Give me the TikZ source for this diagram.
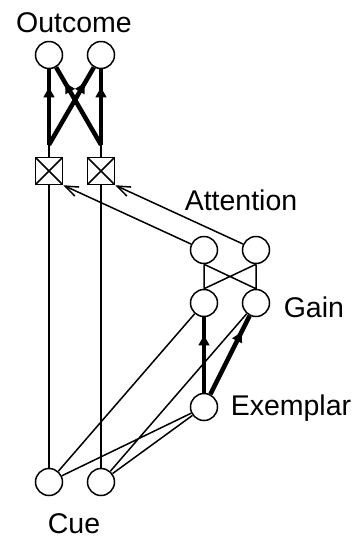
\documentclass[tikz,border=0pt]{standalone}
\usepackage{fontspec}
\setmainfont{Liberation Sans}
\usetikzlibrary{arrows.meta, calc, decorations.markings}

\begin{document}
\begin{tikzpicture}[x=1pt, y=-1pt, line width=1.5pt,
    unit/.style={circle, draw, minimum size=27pt, inner sep=0pt},
    gate/.style={rectangle, draw, minimum size=27pt, inner sep=0pt,
      path picture={\draw (path picture bounding box.north west) -- (path picture bounding box.south east)
        (path picture bounding box.south west) -- (path picture bounding box.north east);}},
    lbl/.style={font=\fontsize{28.5}{34}\selectfont, inner sep=0pt},
    strong/.style={line width=4.5pt, postaction={decorate},
      decoration={markings, mark=at position -16pt with {\arrow{Latex[length=12pt,width=12pt]}}}},
    attn/.style={-{Straight Barb[length=13pt,width=10pt]}}]
  \useasboundingbox (0,0) rectangle (354,539);
  % units
  \node[unit] (o1) at (49,55) {};
  \node[unit] (o2) at (101,55) {};
  \node[gate] (b1) at (49,171) {};
  \node[gate] (b2) at (101,171) {};
  \node[unit] (a1) at (204,250) {};
  \node[unit] (a2) at (256,250) {};
  \node[unit] (g1) at (204,303) {};
  \node[unit] (g2) at (256,303) {};
  \node[unit] (e) at (204,407) {};
  \node[unit] (c1) at (49,482) {};
  \node[unit] (c2) at (101,482) {};
  \coordinate (t1) at ($(b1.north)+(0,-12)$);
  \coordinate (t2) at ($(b2.north)+(0,-12)$);
  % labels
  \node[lbl, anchor=base] at (74,32) {Outcome};
  \node[lbl, anchor=base] at (241,210) {Attention};
  \node[lbl, anchor=base west] at (283,317) {Gain};
  \node[lbl, anchor=base west] at (230,415) {Exemplar};
  \node[lbl, anchor=base] at (74,533) {Cue};
  % connections
  \draw (c1) -- (b1) (c2) -- (b2)
        (b1) -- (t1) (b2) -- (t2);
  \draw[strong] (t1) -- (o1);
  \draw[strong] (t1) -- (o2);
  \draw[strong] (t2) -- (o1);
  \draw[strong] (t2) -- (o2);
  \draw[attn] (a1) -- (b1.south east);
  \draw[attn] (a2) -- (b2.south east);
  \draw (a1.south) -- (g1.north) (a1.south) -- (g2.north)
        (a2.south) -- (g1.north) (a2.south) -- (g2.north);
  \draw[strong] (e) -- (g1);
  \draw[strong] (e) -- (g2);
  \draw (c1) -- (g1) (c2) -- (g2)
        (c1) -- (e) (c2) -- (e);
\end{tikzpicture}
\end{document}
